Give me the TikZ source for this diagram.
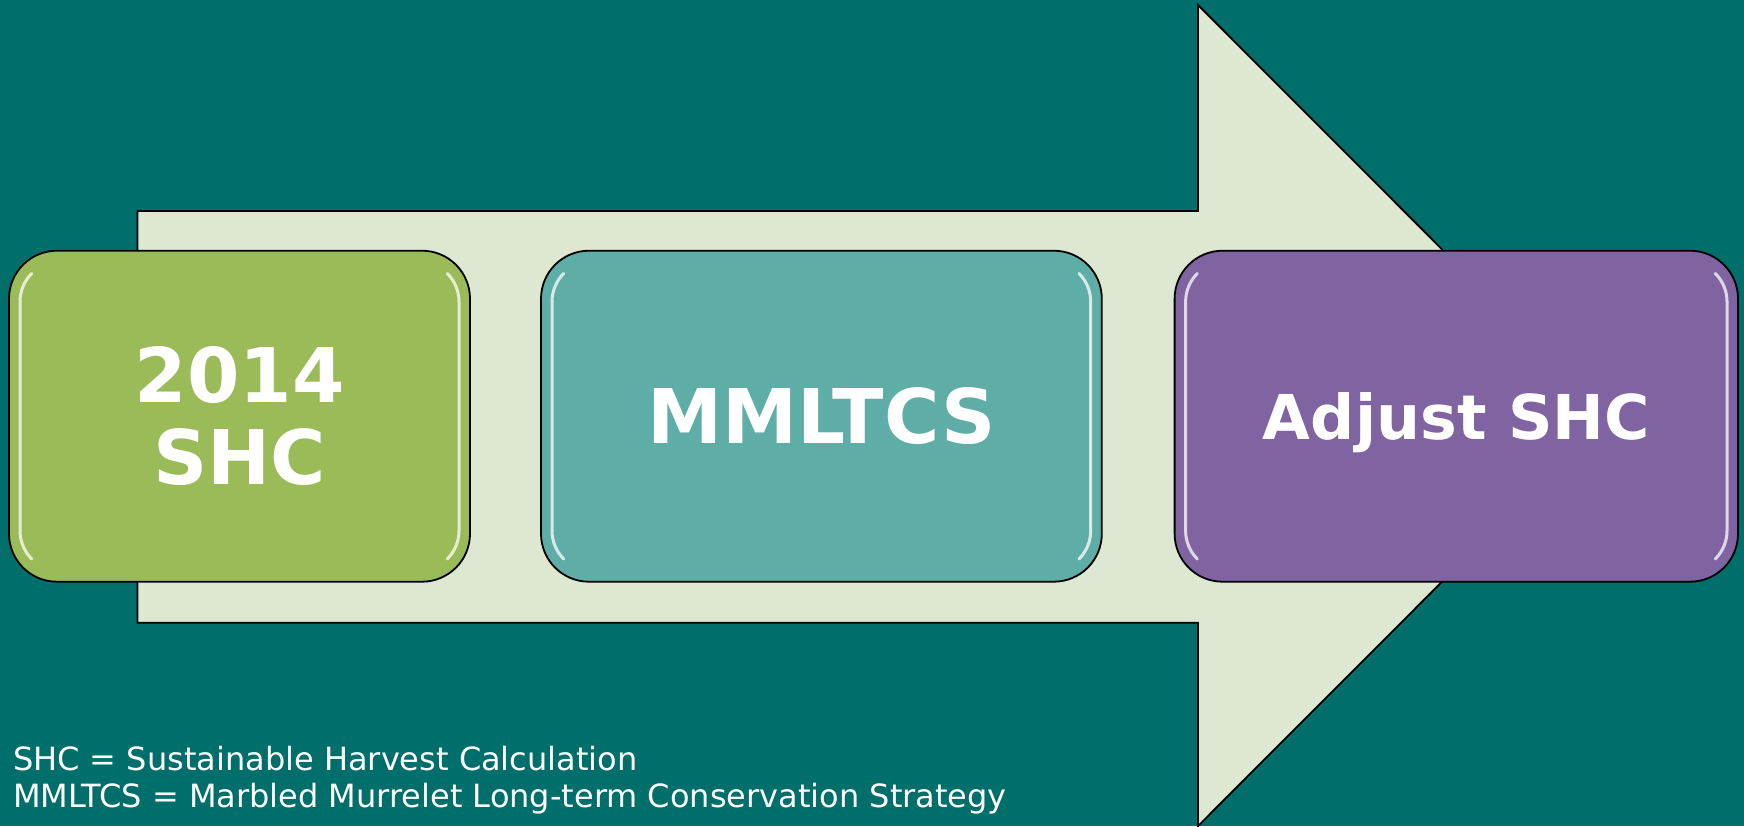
\documentclass[tikz,border=0pt]{standalone}
\usepackage{fontspec}
\setmainfont{DejaVu Sans}
\definecolor{bg}{HTML}{006E6A}
\definecolor{arrowfill}{HTML}{DEE7D1}
\definecolor{boxgreen}{HTML}{9BBB59}
\definecolor{boxteal}{HTML}{5EADA6}
\definecolor{boxpurple}{HTML}{8064A2}
\tikzset{
  arrowshape/.style={fill=arrowfill, draw=black, line width=0.9pt, line join=miter},
  stepbox/.style={draw=black, line width=0.9pt, rounded corners=24pt, inner sep=0pt, outer sep=0pt,
    minimum height=165.5pt, text=white, align=center, font=\bfseries\fontsize{37.7}{41}\selectfont},
  gloss/.style={draw=white, draw opacity=0.75, line width=1.5pt, line cap=round},
  note/.style={text=white, inner sep=0pt, outer sep=0pt, anchor=base west, font=\fontsize{16}{18}\selectfont}
}
\newcommand\glossbox[4]{%
  \draw[gloss] ({#1+11+40-28.28},{#2+11+40-28.28}) arc[start angle=225,end angle=180,radius=40]
     -- ({#1+11},{#4-11-40}) arc[start angle=180,end angle=135,radius=40];
  \draw[gloss] ({#3-11-40+28.28},{#2+11+40-28.28}) arc[start angle=315,end angle=360,radius=40]
     -- ({#3-11},{#4-11-40}) arc[start angle=0,end angle=45,radius=40];
}
\begin{document}
\begin{tikzpicture}[x=0.5pt,y=-0.5pt]
  \useasboundingbox (0,0) rectangle (1744,826);
  \fill[bg] (0,0) rectangle (1744,826);
  % big arrow
  \draw[arrowshape] (137.5,211) -- (1198,211) -- (1198,5) -- (1608,415.5) -- (1198,826)
       -- (1198,622.7) -- (137.5,622.7) -- cycle;
  % boxes
  \node[stepbox, fill=boxgreen, minimum width=230.5pt] (b1) at (239.5,416.2) {2014\\SHC};
  \node[stepbox, fill=boxteal, minimum width=280.4pt] (b2) at (821.4,416.2) {MMLTCS};
  \node[stepbox, fill=boxpurple, minimum width=281.7pt, text depth=0pt,
        font=\bfseries\fontsize{30.9}{36}\selectfont] (b3) at (1456.3,416.2) {Adjust SHC};
  \glossbox{9}{250.7}{470}{581.7}
  \glossbox{541}{250.7}{1101.7}{581.7}
  \glossbox{1174.6}{250.7}{1738}{581.7}
  % footnote
  \node[note] (n1) at (13,770) {SHC = Sustainable Harvest Calculation};
  \node[note] (n2) at (13,807.3) {MMLTCS = Marbled Murrelet Long-term Conservation Strategy};
\end{tikzpicture}
\end{document}
